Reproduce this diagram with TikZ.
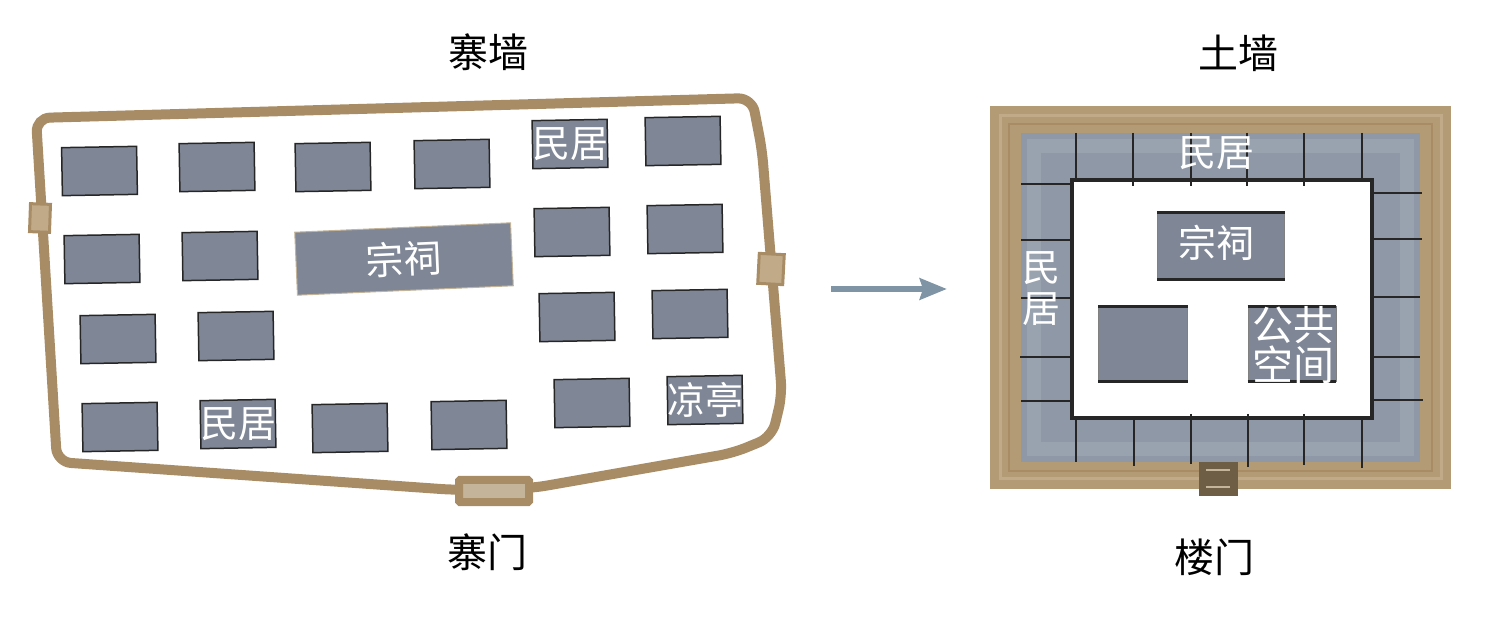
\documentclass[tikz,border=0pt]{standalone}
\usepackage{fontspec}
\newfontfamily\cjk{Noto Sans CJK SC}
\usetikzlibrary{arrows.meta}
\definecolor{wallbrown}{HTML}{A88C65}
\definecolor{walllight}{HTML}{C0AA88}
\definecolor{wallpale}{HTML}{C4B49A}
\definecolor{framebrown}{HTML}{B29B75}
\definecolor{gatedark}{HTML}{6F5E46}
\definecolor{housegray}{HTML}{7F8696}
\definecolor{bandgray}{HTML}{8E98A6}
\definecolor{bandpale}{HTML}{99A2AF}
\definecolor{arrowgray}{HTML}{7F94A4}
\tikzset{
  house/.style={draw=black!85, fill=housegray, line width=1.5pt, inner sep=0pt, rotate=1, minimum width=75pt, minimum height=48pt},
  hall/.style={draw=wallpale, fill=housegray, line width=1pt, inner sep=0pt, rotate=2.5, minimum width=216pt, minimum height=63pt, text=white, font=\cjk\fontsize{38}{40}\selectfont},
  block/.style={draw=black!50, fill=housegray, line width=.8pt, inner sep=0pt},
  blockedge/.style={draw=black!85, line width=3pt},
  whitelabel/.style={text=white, inner sep=0pt, align=center, font=\cjk\fontsize{38}{41}\selectfont},
  title/.style={text=black, inner sep=0pt, font=\cjk\fontsize{40}{42}\selectfont},
  wallline/.style={draw=wallbrown, line width=10pt, rounded corners=14pt},
  sidegate/.style={draw=wallbrown, fill=walllight, line width=3pt, inner sep=0pt, minimum width=20pt, minimum height=28pt},
  tick/.style={draw=black!85, line width=1.2pt}
}
\begin{document}
\begin{tikzpicture}[x=1pt,y=-1pt]
    \useasboundingbox (0,0) rectangle (1500,617);
    \node[title] (tl) at (488,52) {寨墙};
    \node[title] (tr) at (1238,53) {土墙};
    \node[title] (bl) at (487,552) {寨门};
    \node[title] (br) at (1214,557) {楼门};

    \draw[wallline] (36,118) -- (752,98) -- (762,150) -- (782,395) -- (772,437) -- (733,453) -- (533,488) -- (455,490) -- (57,462) -- cycle;
    \node[sidegate, rotate=-2] (gl) at (40,218) {};
    \node[sidegate, rotate=-3, minimum width=25pt, minimum height=30pt] (gr) at (771,269) {};
    \node[draw=wallbrown, fill=wallpale, line width=8pt, rounded corners=1pt, inner sep=0pt, minimum width=70pt, minimum height=22pt] (gb) at (494,491) {};

    \node[house] (h11) at (99.5,171) {};
    \node[house] (h12) at (217,167) {};
    \node[house] (h13) at (333,167) {};
    \node[house] (h14) at (452,164) {};
    \node[house] (h15) at (570,144) {};
    \node[house] (h16) at (683,141) {};
    \node[house] (h21) at (102,259) {};
    \node[house] (h22) at (220,256) {};
    \node[hall] (hall) at (404,259) {宗祠};
    \node[house] (h25) at (572,232) {};
    \node[house] (h26) at (685,229) {};
    \node[house] (h31) at (118,339) {};
    \node[house] (h32) at (236,336) {};
    \node[house] (h35) at (577,317) {};
    \node[house] (h36) at (690,314) {};
    \node[house] (h41) at (120,427) {};
    \node[house] (h42) at (238,424) {};
    \node[house] (h43) at (350,428) {};
    \node[house] (h44) at (469,425) {};
    \node[house] (h45) at (592,403) {};
    \node[house] (h46) at (705,400) {};
    \node[whitelabel] (l15) at (h15) {民居};
    \node[whitelabel] (l42) at (h42) {民居};
    \node[whitelabel] (l46) at (h46) {凉亭};

    \coordinate (arrowtail) at (831,289);
    \coordinate (arrowtip) at (947,289);
    \draw[draw=arrowgray, line width=6pt, -{Stealth[length=27pt,width=21pt,inset=3pt]}] (arrowtail) -- (arrowtip);

    \fill[framebrown] (990,106) rectangle (1451,489);
    \draw[walllight, line width=3pt] (1000,116) rectangle (1441,479);
    \draw[wallbrown, line width=2pt] (1009,124) rectangle (1432,471);
    \fill[bandgray] (1021,133) rectangle (1420,462);
    \draw[bandpale, line width=14pt] (1034,146) rectangle (1407,449);
    \fill[white] (1072,180) rectangle (1372,418);
    \draw[black!85, line width=3.5pt] (1072,180) rectangle (1372,418);

    \draw[tick] (1076,133) -- (1076,180);
    \draw[tick] (1133,133) -- (1133,186);
    \draw[tick] (1191,133) -- (1191,186);
    \draw[tick] (1247,133) -- (1247,186);
    \draw[tick] (1304,133) -- (1304,186);
    \draw[tick] (1362,133) -- (1362,180);
    \draw[tick] (1076,418) -- (1076,462);
    \draw[tick] (1134,418) -- (1134,466);
    \draw[tick] (1191,414) -- (1191,464);
    \draw[tick] (1248,414) -- (1248,467);
    \draw[tick] (1304,414) -- (1304,465);
    \draw[tick] (1362,418) -- (1362,468);
    \draw[tick] (1021,184) -- (1072,184);
    \draw[tick] (1021,240) -- (1072,240);
    \draw[tick] (1021,298) -- (1072,298);
    \draw[tick] (1020,357) -- (1072,357);
    \draw[tick] (1021,401) -- (1072,401);
    \draw[tick] (1372,193) -- (1422,193);
    \draw[tick] (1372,239) -- (1422,239);
    \draw[tick] (1372,297) -- (1420,297);
    \draw[tick] (1372,357) -- (1420,357);
    \draw[tick] (1372,400) -- (1423,400);

    \node[block, minimum width=127pt, minimum height=67pt] (shrine) at (1221,246) {};
    \node[block, minimum width=89pt, minimum height=75pt] (blank) at (1143,344) {};
    \node[block, minimum width=88pt, minimum height=75pt] (common) at (1292,344) {};
    \draw[blockedge] (shrine.north west) -- (shrine.north east);
    \draw[blockedge] (shrine.south west) -- (shrine.south east);
    \draw[blockedge] (blank.north west) -- (blank.north east);
    \draw[blockedge] (blank.south west) -- (blank.south east);
    \draw[blockedge] (common.north west) -- (common.north east);
    \draw[blockedge] (common.south west) -- (common.south east);
    \node[whitelabel] (ln) at (1216,243) {宗祠};
    \node[whitelabel, font=\cjk\fontsize{41}{40}\selectfont] (lc) at (1293,345) {公共\\空间};
    \node[whitelabel] (lt) at (1216,153) {民居};
    \node[whitelabel] (ls) at (1041,289) {民\\居};
    \node[fill=gatedark, inner sep=0pt, minimum width=39pt, minimum height=34pt] (gate) at (1218,479) {};
    \draw[wallpale, line width=1.5pt] (gate.center) ++(-12,-9) -- ++(24,0);
    \draw[wallpale, line width=1.5pt] (gate.center) ++(-12,8) -- ++(24,0);
\end{tikzpicture}
\end{document}
